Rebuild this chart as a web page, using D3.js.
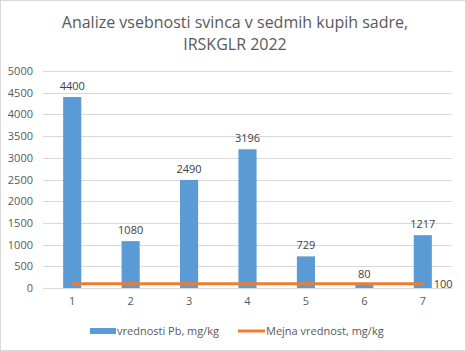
<!DOCTYPE html>
<html>
<head>
<meta charset="utf-8">
<script src="https://cdn.jsdelivr.net/npm/d3@7"></script>
<style>
  body { margin: 0; background: #fff; }
  text { font-family: "Open Sans", "Liberation Sans", sans-serif; }
</style>
</head>
<body>
<script>
var categories = ["1", "2", "3", "4", "5", "6", "7"];
var pbValues = [4400, 1080, 2490, 3196, 729, 80, 1217];
var limitValues = [100, 100, 100, 100, 100, 100, 100];
var yTicks = [0, 500, 1000, 1500, 2000, 2500, 3000, 3500, 4000, 4500, 5000];
var titleLines = ["Analize vsebnosti svinca v sedmih kupih sadre,", "IRSKGLR 2022"];
var seriesNames = ["vrednosti Pb, mg/kg", "Mejna vrednost, mg/kg"];

var width = 466, height = 351;
var margin = { left: 43, right: 14, top: 71, bottom: 63 };

var svg = d3.select("body").append("svg")
    .attr("width", width)
    .attr("height", height);

// chart border
svg.append("rect")
    .attr("x", 0.5).attr("y", 0.5)
    .attr("width", width - 1).attr("height", height - 1)
    .attr("fill", "#fff").attr("stroke", "#d9d9d9");

// title
svg.append("text")
    .attr("x", width / 2 + 2)
    .attr("y", 28)
    .attr("text-anchor", "middle")
    .attr("fill", "#595959")
    .style("font-size", "16px")
    .selectAll("tspan")
    .data(titleLines)
    .enter().append("tspan")
    .attr("x", width / 2 + 2)
    .attr("dy", function (d, i) { return i === 0 ? 0 : 22; })
    .text(function (d) { return d; });

var x = d3.scaleBand()
    .domain(categories)
    .range([margin.left, width - margin.right])
    .paddingInner(0.69)
    .paddingOuter(0.345);

var xc = d3.scalePoint()
    .domain(categories)
    .range([margin.left, width - margin.right])
    .padding(0.5);

var y = d3.scaleLinear()
    .domain([0, 5000])
    .range([height - margin.bottom, margin.top]);

// gridlines
svg.append("g")
    .selectAll("line")
    .data(yTicks)
    .enter().append("line")
    .attr("x1", margin.left)
    .attr("x2", width - margin.right)
    .attr("y1", function (d) { return Math.round(y(d)) + 0.5; })
    .attr("y2", function (d) { return Math.round(y(d)) + 0.5; })
    .attr("stroke", "#d9d9d9");

// y axis labels
var yAxis = svg.append("g")
    .attr("transform", "translate(" + margin.left + ",0)")
    .call(d3.axisLeft(y).tickValues(yTicks).tickFormat(d3.format("d")).tickSize(0).tickPadding(10));
yAxis.select(".domain").remove();
yAxis.selectAll("text")
    .attr("fill", "#595959")
    .style("font-size", "11px")
    .style("font-family", "'Open Sans', sans-serif");

// x axis labels
var xAxis = svg.append("g")
    .attr("transform", "translate(0," + (height - margin.bottom) + ")")
    .call(d3.axisBottom(x).tickSize(0).tickPadding(9));
xAxis.select(".domain").remove();
xAxis.selectAll("text")
    .attr("fill", "#595959")
    .style("font-size", "11px")
    .style("font-family", "'Open Sans', sans-serif");

// bars
svg.append("g")
    .selectAll("rect")
    .data(pbValues)
    .enter().append("rect")
    .attr("x", function (d, i) { return x(categories[i]); })
    .attr("width", x.bandwidth())
    .attr("y", function (d) { return y(d); })
    .attr("height", function (d) { return y(0) - y(d); })
    .attr("fill", "#5b9bd5");

// bar labels
svg.append("g")
    .selectAll("text")
    .data(pbValues)
    .enter().append("text")
    .attr("x", function (d, i) { return xc(categories[i]); })
    .attr("y", function (d) { return y(d) - 7; })
    .attr("text-anchor", "middle")
    .attr("fill", "#404040")
    .style("font-size", "11px")
    .text(function (d) { return d; });

// limit line
var line = d3.line()
    .x(function (d, i) { return xc(categories[i]); })
    .y(function (d) { return y(d); });

svg.append("path")
    .datum(limitValues)
    .attr("d", line)
    .attr("fill", "none")
    .attr("stroke", "#ed7d31")
    .attr("stroke-width", 3);

var last = limitValues.length - 1;
svg.append("text")
    .attr("x", xc(categories[last]) + 11)
    .attr("y", y(limitValues[last]) + 4)
    .attr("fill", "#404040")
    .style("font-size", "11px")
    .text(limitValues[last]);

// legend
var legend = svg.append("g").style("font-size", "11px");
legend.append("rect")
    .attr("x", 90).attr("y", 328)
    .attr("width", 26).attr("height", 6)
    .attr("fill", "#5b9bd5");
legend.append("text")
    .attr("x", 117).attr("y", 335)
    .attr("fill", "#595959")
    .text(seriesNames[0]);
legend.append("line")
    .attr("x1", 238).attr("x2", 265)
    .attr("y1", 331).attr("y2", 331)
    .attr("stroke", "#ed7d31").attr("stroke-width", 3);
legend.append("text")
    .attr("x", 266).attr("y", 335)
    .attr("fill", "#595959")
    .text(seriesNames[1]);
</script>
</body>
</html>
